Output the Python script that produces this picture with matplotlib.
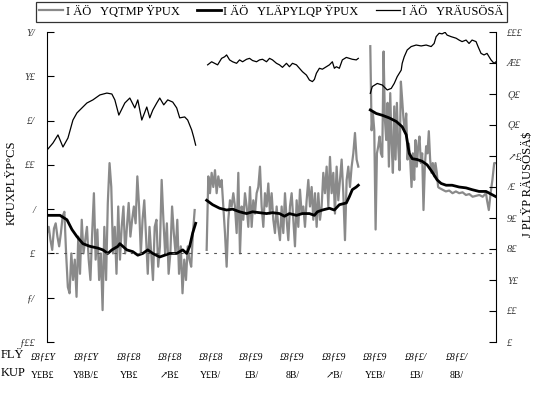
import numpy as np
import matplotlib
matplotlib.use("Agg")
import matplotlib.pyplot as plt
from matplotlib.lines import Line2D

plt.rcParams['font.family'] = ['Liberation Serif', 'DejaVu Serif']

# session bounds (time index)
sessions = [(0, 149), (160, 312), (324, 450)]

# series 1: grey, left axis
gray_v1 = [2.3, 3.0, 1.5, 0.4, 2.8, 3.4, 1.9, 0.8, 2.3, 4.2,
           4.7, 0.0, -3.8, -4.5, 0.0, -3.0, -0.7, -4.9, 1.9, -2.3,
           3.8, 0.0, 1.5, 3.0, -0.7, -3.0, 2.3, 6.8, -0.7, 2.7,
           -3.0, 0.0, -6.4, 3.0, -3.0, 5.7, 10.2, 7.5, 0.0, 3.0,
           -2.3, 5.3, -0.7, 3.0, 5.3, 0.0, 3.0, 5.7, 1.9, 3.8,
           5.3, 3.4, 8.7, 5.3, 0.0, 3.8, 6.0, 1.9, -2.3, 3.0,
           0.0, -3.0, 3.0, 3.8, -1.5, 0.8, 8.3, 3.8, 0.0, 3.4,
           -2.3, 0.0, 5.3, 2.3, 0.0, 3.8, -2.3, 0.8, -4.5, -0.7,
           -3.0, 0.8, -0.7, -1.5, 2.3, 4.9]
gray_v2 = [0.4, 8.7, 6.8, 9.1, 7.5, 9.4, 6.8, 8.7, 7.5, 8.3,
           5.3, 2.3, -1.5, 3.8, 6.0, 5.3, 6.8, 5.3, 2.3, 9.1,
           0.0, 5.3, 3.8, 6.8, 5.3, 3.0, 7.5, 3.0, 6.0, 4.5,
           6.8, 7.5, 9.8, 5.3, 3.0, 6.8, 5.3, 7.9, 4.5, 6.8,
           3.8, 2.3, 5.3, 3.0, 1.5, 5.3, 2.3, 6.8, 3.8, 1.5,
           5.3, 6.8, 3.8, 0.8, 6.0, 3.0, 7.2, 4.5, 5.3, 3.0,
           6.0, 8.3, 5.3, 7.5, 3.8, 6.8, 3.0, 6.8, 3.8, 5.3,
           9.1, 6.8, 9.8, 5.3, 10.9, 6.8, 9.1, 4.5, 9.8, 6.0,
           8.3, 10.6, 6.8, 1.5, 8.3, 9.8, 7.5, 9.8, 11.3, 13.6,
           10.6, 9.8]
gray_v3 = [23.4, 13.9, 15.8, 13.9, 2.7, 11.3, 12.1, 13.2, 11.3, 10.9,
           22.8, 15.1, 12.8, 17.0, 9.8, 18.1, 12.4, 9.1, 16.6, 10.6,
           17.0, 12.1, 9.4, 19.4, 17.3, 15.1, 13.9, 15.8, 10.6, 12.4,
           10.6, 7.5, 11.3, 8.3, 12.8, 9.8, 12.1, 13.2, 10.2, 11.3,
           4.9, 9.8, 12.1, 11.3, 13.8, 10.6, 9.1, 10.2, 8.7, 10.2,
           9.1, 7.5,
           7.4, 7.2, 7.0, 7.1, 6.8, 7.0, 6.8, 6.9, 6.6, 6.7,
           6.4, 6.5, 6.6, 6.4, 6.8,
           6.0, 4.9, 6.8, 8.3, 10.2, 10.2]

# series 2: thick black, left axis
thick_t1 = [0, 13, 20, 25, 30, 36, 43, 51, 56, 61, 65, 71, 73, 80,
            86, 91, 96, 101, 106, 113, 118, 123, 130, 136, 140, 143, 146, 149]
thick_v1 = [4.3, 4.3, 3.8, 2.7, 1.9, 1.1, 0.8, 0.6, 0.4, 0.0, 0.4, 0.8, 1.1, 0.4,
            0.2, -0.2, 0.0, 0.4, 0.0, -0.4, -0.2, 0.0, 0.0, 0.4, 0.0, 0.8, 2.3, 3.4]
thick_t2 = [160, 166, 173, 180, 186, 193, 200, 206, 213, 220, 226, 233, 238, 243,
            250, 256, 263, 268, 271, 276, 283, 288, 293, 300, 303, 306, 310, 312]
thick_v2 = [6.0, 5.5, 5.1, 4.9, 5.0, 4.7, 4.5, 4.7, 4.6, 4.5, 4.6, 4.5, 4.2, 4.5,
            4.3, 4.5, 4.5, 4.3, 4.7, 4.9, 5.1, 4.9, 5.5, 5.7, 6.4, 7.2, 7.5, 7.7]
thick_t3 = [324, 330, 336, 343, 350, 356, 360, 363, 366, 371, 376, 381,
            386, 391, 395, 400, 406, 413, 420, 426, 433, 440, 445, 450]
thick_v3 = [16.2, 15.8, 15.6, 15.3, 14.9, 14.3, 13.4, 11.3, 10.7, 10.6, 10.4, 10.0,
            9.2, 8.3, 7.9, 7.7, 7.7, 7.5, 7.4, 7.2, 7.0, 7.0, 6.7, 6.4]

# series 3: thin black, right axis
thin_t1 = [0, 6, 11, 16, 21, 26, 30, 35, 40, 46, 53, 60, 65, 68, 72, 78, 83, 88,
           91, 95, 100, 103, 106, 110, 113, 117, 121, 126, 130, 133, 138, 141, 145, 147, 149]
thin_v1 = [61.9, 64.2, 66.8, 62.9, 65.8, 71.6, 73.9, 75.5, 77.1, 78.1, 79.7, 80.3,
           80.0, 78.1, 73.2, 77.1, 78.7, 75.5, 78.1, 71.6, 75.8, 72.3, 74.8, 77.1,
           78.7, 76.5, 78.1, 77.4, 75.5, 72.3, 72.6, 71.6, 68.4, 66.1, 63.5]
thin_t2 = [161, 165, 168, 171, 175, 178, 180, 183, 186, 190, 193, 196, 200, 203,
           206, 210, 213, 216, 220, 223, 226, 230, 233, 236, 240, 243, 246, 250,
           253, 256, 260, 263, 266, 268, 270, 273, 276, 280, 283, 286, 288, 290,
           293, 296, 300, 303, 306, 310, 312]
thin_v2 = [89.4, 90.4, 89.9, 89.4, 91.5, 92.0, 92.6, 91.0, 90.4, 89.9, 91.0, 90.4,
           91.2, 91.5, 90.8, 90.4, 91.0, 91.2, 90.4, 91.5, 91.0, 89.9, 89.4, 88.6,
           89.9, 88.8, 89.9, 89.4, 88.3, 87.2, 86.1, 84.5, 84.0, 84.7, 86.7, 88.3,
           88.0, 88.8, 89.4, 90.4, 88.3, 88.8, 88.3, 91.0, 91.8, 91.5, 91.2, 91.0, 91.5]
thin_t3 = [324, 326, 331, 336, 341, 345, 348, 351, 355, 356, 358, 361, 365, 370,
           375, 380, 385, 388, 390, 393, 396, 399, 401, 405, 410, 413, 416, 420,
           423, 426, 430, 432, 435, 438, 441, 445, 448, 450]
thin_v3 = [80.2, 82.4, 83.4, 82.9, 81.3, 81.8, 83.4, 85.6, 87.7, 89.9, 92.0, 94.2,
           95.3, 95.8, 95.5, 95.8, 95.3, 96.3, 98.5, 99.6, 99.4, 99.9, 99.0, 98.5,
           98.0, 97.4, 96.9, 97.4, 96.3, 97.4, 96.9, 95.3, 93.1, 92.6, 93.1, 91.0,
           89.9, 90.4]

legend_labels = ["I ÄÖ   YQTMP ŸPUX", "I ÄÖ   YLÄPYLQP ŸPUX", "I ÄÖ   YRÄUSÖSÄ"]
left_label = "KPUXPLŸP°CS"
right_label = "J PLŸP RÄUSÖSÄ$"

left_ticks = [25, 20, 15, 10, 5, 0, -5, -10]
left_ticklabels = ["Y/", "Y£", "£/", "££", "/", "£", "ƒ/", "ƒ££"]
right_ticks = [100, 90, 80, 70, 60, 50, 40, 30, 20, 10, 0]
right_ticklabels = ["£££", "Æ£", "Ǫ£", "Ǫ£", "↗£", "/£", "9£", "8£", "Y£", "££", "£"]

x_tick_pos = [-4, 39, 82, 123, 164, 205, 246, 288, 329, 370, 411]
x_dates = ["£8ƒ£Y", "£8ƒ£Y", "£8ƒ£8", "£8ƒ£8", "£8ƒ£8", "£8ƒ£9",
           "£8ƒ£9", "£8ƒ£9", "£8ƒ£9", "£8ƒ£/", "£8ƒ£/"]
x_times = ["Y£B£", "Y8B/£", "YB£", "↗B£", "Y£B/", "£B/",
           "8B/", "↗B/", "Y£B/", "£B/", "8B/"]
row_head = ["FLŸ", "KUP"]

gray_t1 = np.linspace(sessions[0][0], sessions[0][1] - 1, len(gray_v1))
gray_t2 = np.linspace(sessions[1][0], sessions[1][1], len(gray_v2))
gray_t3 = np.r_[np.linspace(324, 392, 52), np.linspace(393, 440, 15), np.linspace(441, 450, 6)]

GRAY = "#8a8a8a"

fig = plt.figure(figsize=(5.38, 3.96), dpi=100)
ax = fig.add_axes([47 / 538, 1 - 342 / 396, 449 / 538, 310 / 396])
ax2 = ax.twinx()

for t, v in [(gray_t1, gray_v1), (gray_t2, gray_v2), (gray_t3, gray_v3)]:
    ax.plot(t, v, color=GRAY, lw=1.6)
for t, v in [(thick_t1, thick_v1), (thick_t2, thick_v2), (thick_t3, thick_v3)]:
    ax.plot(t, v, color="black", lw=2.0)
for t, v in [(thin_t1, thin_v1), (thin_t2, thin_v2), (thin_t3, thin_v3)]:
    ax2.plot(t, v, color="black", lw=0.9)

ax.axhline(0, color="#555555", lw=0.8, ls=(0, (2.5, 5)))

ax.set_xlim(0, 450)
ax.set_ylim(-10, 25)
ax2.set_ylim(0, 100)

for a in (ax, ax2):
    a.spines["top"].set_visible(False)
    a.spines["bottom"].set_visible(False)
    a.tick_params(axis="x", bottom=False, labelbottom=False)
ax.spines["right"].set_visible(False)
ax2.spines["left"].set_visible(False)

ax.set_yticks(left_ticks)
ax.set_yticklabels(left_ticklabels, fontsize=7.5, style="italic", color="#333333")
ax.tick_params(axis="y", direction="in", length=5, pad=8.5)
ax2.set_yticks(right_ticks)
ax2.set_yticklabels(right_ticklabels, fontsize=7.5, style="italic", color="#333333")
ax2.tick_params(axis="y", direction="in", length=5, pad=8)

fig.text(12 / 538, 1 - 183 / 396, left_label, rotation=90, ha="center", va="center", fontsize=9)
fig.text(528 / 538, 1 - 184 / 396, right_label, rotation=90, ha="center", va="center", fontsize=9)

for pos, d, tm in zip(x_tick_pos, x_dates, x_times):
    ax.text(pos, -0.035, d, transform=ax.get_xaxis_transform(), ha="center", va="top",
            fontsize=7, style="italic", clip_on=False)
    ax.text(pos, -0.093, tm, transform=ax.get_xaxis_transform(), ha="center", va="top",
            fontsize=7, clip_on=False)
fig.text(1 / 538, 1 - 349 / 396, row_head[0], ha="left", va="top", fontsize=9)
fig.text(1 / 538, 1 - 367 / 396, row_head[1], ha="left", va="top", fontsize=9)

handles = [Line2D([], [], color=GRAY, lw=1.6),
           Line2D([], [], color="black", lw=2.0),
           Line2D([], [], color="black", lw=0.9)]
leg = fig.legend(handles, legend_labels, loc="upper center", bbox_to_anchor=(271.5 / 538, 0.995),
                 ncol=3, frameon=True, fancybox=False, edgecolor="black", fontsize=9,
                 handlelength=1.9, handletextpad=0.2, columnspacing=1.4,
                 borderpad=0.3, borderaxespad=0)
leg.get_frame().set_linewidth(0.9)

fig.savefig("out.png", dpi=100)
